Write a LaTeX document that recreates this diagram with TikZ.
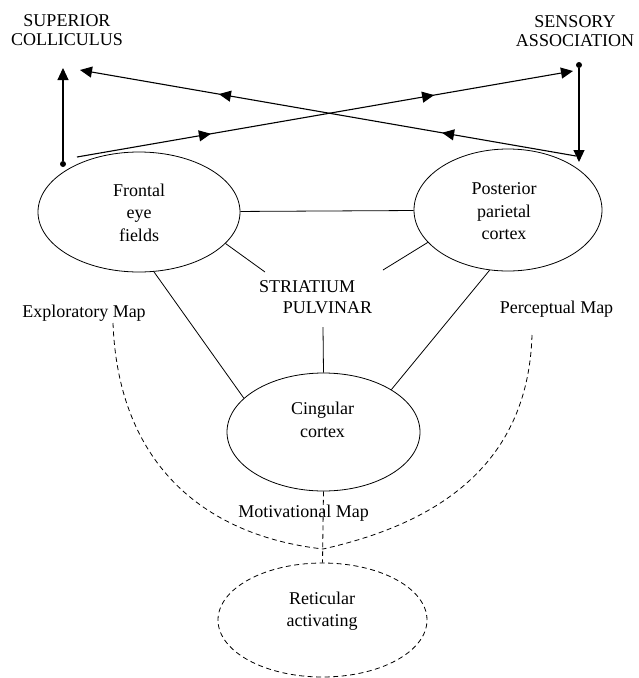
\documentclass[tikz,border=0pt]{standalone}
\usepackage{fontspec}
\setmainfont{Liberation Serif}
\usetikzlibrary{shapes.geometric,arrows.meta,decorations.markings}
\begin{document}
\begin{tikzpicture}[x=1pt,y=-1pt,
  every node/.style={font=\fontsize{18}{22.5}\selectfont, inner sep=0pt, align=center},
  area/.style={ellipse, draw, line width=0.8pt, inner sep=0pt},
  link/.style={line width=0.8pt},
  flow/.style={line width=1.1pt},
  tip/.style={-{Triangle[length=12pt,width=11pt]}},
  dashlink/.style={line width=0.8pt, dash pattern=on 5pt off 3.5pt},
  midarrows/.style={postaction={decorate}, decoration={markings,
     mark=at position 0.27 with {\arrow{Triangle[length=12pt,width=11pt]}},
     mark=at position 0.72 with {\arrow{Triangle[length=12pt,width=11pt]}}}},
  blob/.style={circle, fill, inner sep=0pt, minimum size=6pt},
  caps/.style={font=\fontsize{18}{19}\selectfont}]
\useasboundingbox (0,0) rectangle (638,678);

% areas
\node[area, minimum width=202pt, minimum height=120pt] (front) at (139,212) {};
\node (frontT) at (139,212.5) {Frontal\\eye\\fields};
\node[area, minimum width=188pt, minimum height=122pt] (post) at (508,210) {};
\node (postT) at (504,211.5) {Posterior\\parietal\\cortex};
\node[area, minimum width=193pt, minimum height=118pt] (cing) at (323.5,432) {};
\node (cingT) at (322.5,420) {Cingular\\cortex};
\node[area, dashlink, minimum width=209pt, minimum height=114pt] (ret) at (322.5,620) {};
\node (retT) at (322,611) {Reticular\\activating};

% labels
\node[caps] (sup) at (67,30) {SUPERIOR\\COLLICULUS};
\node[caps] (sens) at (575,31) {SENSORY\\ASSOCIATION};
\node (stri) at (307,286.5) {STRIATIUM};
\node (pulv) at (327.5,308) {PULVINAR};
\node (expl) at (84,313.5) {Exploratory Map};
\node (perc) at (556.5,309) {Perceptual Map};
\node (motiv) at (303.5,513.5) {Motivational Map};

% solid links
\coordinate (sA) at (265,272);
\coordinate (sB) at (383,270);
\coordinate (sC) at (323,327);
\draw[link] (front.-20.7) -- (sA);
\draw[link] (post.202.9) -- (sB);
\draw[link] (sC) -- (cing.north);
\draw[link] (front) -- (post);
\draw[link] (front.-76.9) -- (cing.157.2);
\draw[link] (post.253.6) -- (cing.32.1);

% dashed links
\coordinate (meet) at (323,549);
\coordinate (eStart) at (113,323);
\coordinate (pStart) at (532,335);
\draw[dashlink] (eStart) .. controls (118,460) and (200,535) .. (meet);
\draw[dashlink] (pStart) .. controls (528,470) and (430,525) .. (meet);
\draw[dashlink] (cing.south) -- (ret.north);

% top arrows
\node[blob] (dotL) at (63,164) {};
\coordinate (tipL) at (63,68);
\draw[flow, tip] (dotL) -- (tipL);
\node[blob] (dotR) at (579,65) {};
\coordinate (tipR) at (579,162);
\draw[flow, tip] (dotR) -- (tipR);
\coordinate (aS) at (77,157);
\coordinate (aE) at (573,71);
\draw[flow, tip, midarrows] (aS) -- (aE);
\coordinate (bS) at (576,156);
\coordinate (bE) at (80,70);
\draw[flow, tip, midarrows] (bS) -- (bE);
\end{tikzpicture}
\end{document}
